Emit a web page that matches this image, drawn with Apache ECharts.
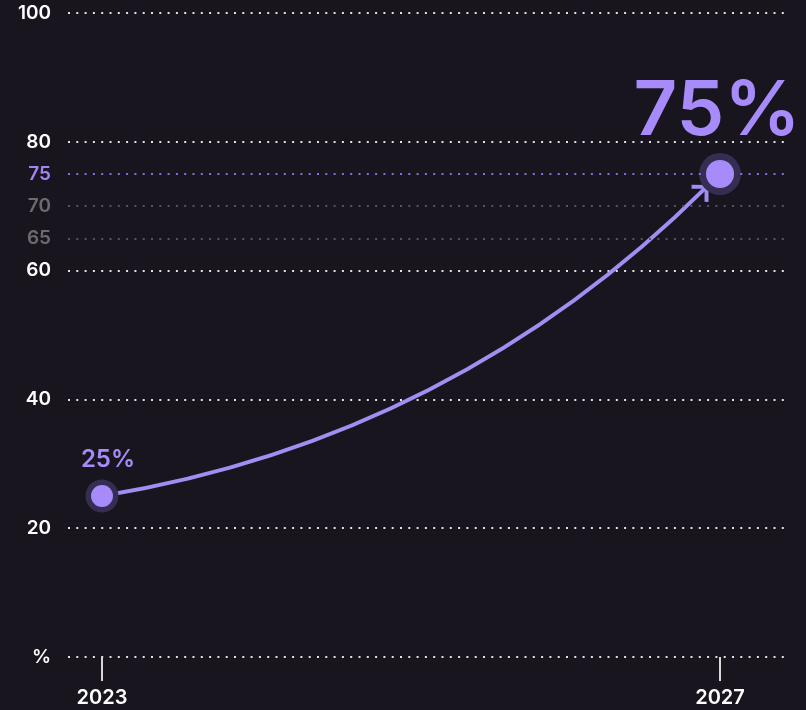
<!DOCTYPE html>
<html>
<head>
<meta charset="utf-8">
<script src="https://cdn.jsdelivr.net/npm/echarts@6/dist/echarts.min.js"></script>
<style>
	html, body { margin: 0; padding: 0; background: #18151f; }
	#chart { width: 806px; height: 710px; }
</style>
</head>
<body>
<div id="chart"></div>
<script>
// data
var years = [2023, 2027];
var shares = [25, 75];
var yLabelValues = [0, 20, 40, 60, 65, 70, 75, 80, 100];
var refLines = [65, 70, 75];
// arrow: starts on the 2023 point, ends just before the 2027 point
var arrowStart = [2023, 25];
var arrowEnd = [2026.913, 73];

var purple = '#a78bfa';
var font = 'Inter, "Noto Sans", sans-serif';

var chart = echarts.init(document.getElementById('chart'));

// open chevron used as the arrow head (tiny speck on top keeps the box square)
var chevron = 'path://M0,14.8 L12,2.8 L24,14.8 L21.2,17.6 L12,8.4 L2.8,17.6 Z M11.9,-6.4 L12.1,-6.4 L12,-6.3 Z';

chart.setOption({
	backgroundColor: '#18151f',
	animation: false,
	grid: { left: 68, right: 16, top: 13, bottom: 53 },
	xAxis: {
		type: 'value',
		min: 2022.78,
		max: 2027.453,
		splitLine: { show: false },
		axisLine: { show: false },
		axisTick: {
			show: true,
			customValues: years,
			length: 24,
			lineStyle: { color: '#d8d8d8', width: 2 }
		},
		axisLabel: {
			customValues: years,
			margin: 31,
			color: '#ffffff',
			fontSize: 20,
			fontWeight: 600,
			fontFamily: font,
			formatter: function (v) { return String(v); }
		}
	},
	yAxis: {
		type: 'value',
		min: 0,
		max: 100,
		interval: 20,
		axisLine: { show: false },
		axisTick: { show: false },
		splitLine: {
			lineStyle: { color: '#e2e2e2', width: 2, type: [2, 6.3] }
		},
		axisLabel: {
			customValues: yLabelValues,
			margin: 17,
			fontSize: 19,
			fontWeight: 600,
			fontFamily: font,
			color: '#ffffff',
			formatter: function (v) {
				if (v === 0) return '%';
				if (v === 75) return '{p|75}';
				if (v === 65 || v === 70) return '{g|' + v + '}';
				return v;
			},
			rich: {
				p: { color: '#a384f6', fontSize: 19, fontWeight: 600, fontFamily: font },
				g: { color: '#6c6a70', fontSize: 19, fontWeight: 600, fontFamily: font }
			}
		}
	},
	series: [
		{
			// extra reference lines at 65 / 70 / 75
			type: 'line',
			silent: true,
			z: 1,
			data: [],
			markLine: {
				silent: true,
				symbol: 'none',
				label: { show: false },
				data: refLines.map(function (v) {
					return {
						yAxis: v,
						lineStyle: {
							color: v === 75 ? '#8a6ee0' : '#565460',
							width: 2,
							type: [2, 6.3]
						}
					};
				})
			}
		},
		{
			type: 'lines',
			coordinateSystem: 'cartesian2d',
			silent: true,
			z: 3,
			symbol: ['none', chevron],
			symbolSize: 24,
			lineStyle: { color: '#a48df2', width: 4, curveness: -0.16, opacity: 1 },
			data: [{ coords: [arrowStart, arrowEnd] }]
		},
		{
			// halo round each point
			type: 'scatter',
			silent: true,
			z: 4,
			symbolSize: function (val, p) { return p.dataIndex === 0 ? 33 : 42; },
			itemStyle: { color: '#362e52', opacity: 1 },
			data: years.map(function (y, i) { return [y, shares[i]]; })
		},
		{
			type: 'scatter',
			silent: true,
			z: 5,
			symbolSize: function (val, p) { return p.dataIndex === 0 ? 22 : 28; },
			itemStyle: { color: purple, opacity: 1 },
			data: years.map(function (y, i) {
				return {
					value: [y, shares[i]],
					label: i === 0
						? { show: true, position: 'top', distance: 13, offset: [6, 0], fontSize: 24, fontWeight: 600 }
						: { show: true, position: 'top', distance: 10, offset: [-3, 0], fontSize: 76, fontWeight: 600 }
				};
			}),
			label: {
				color: purple,
				fontFamily: font,
				formatter: function (p) { return p.value[1] + '%'; }
			}
		}
	]
});
</script>
</body>
</html>
